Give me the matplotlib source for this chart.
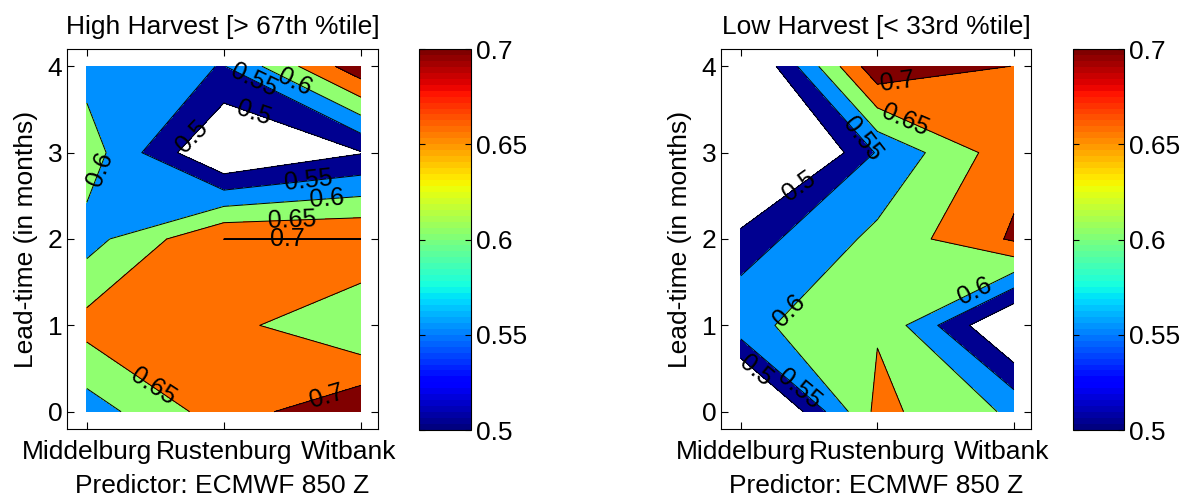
import numpy as np
import matplotlib
matplotlib.use("Agg")
import matplotlib.pyplot as plt
from matplotlib.colors import Normalize
from matplotlib.cm import ScalarMappable
from matplotlib.transforms import ScaledTranslation

plt.rcParams['font.family'] = ['Liberation Sans', 'DejaVu Sans']

# ---- data ----
stations = ['Middelburg', 'Rustenburg', 'Witbank']
lead_times = [0, 1, 2, 3, 4]
levels = [0.5, 0.55, 0.6, 0.65, 0.7]

# rows: lead time 0..4 ; columns: Middelburg, Rustenburg, Witbank
high_harvest = [
    [0.575, 0.675, 0.743],
    [0.668, 0.667, 0.602],
    [0.580, 0.70005, 0.70005],
    [0.627, 0.435, 0.497],
    [0.580, 0.548, 0.735],
]
low_harvest = [
    [0.362, 0.664, 0.591],
    [0.585, 0.645, 0.430],
    [0.524, 0.613, 0.707],
    [0.328, 0.555, 0.683],
    [0.417, 0.738, 0.699],
]
titles = ['High Harvest [> 67th %tile]', 'Low Harvest [< 33rd %tile]']
ylabel = 'Lead-time (in months)'
xlabel = 'Predictor: ECMWF 850 Z'

# ---- style ----
fill_colors = ['#000090', '#0090FF', '#90FF70', '#FF7000', '#800000']
FS = 19
W, H = 1192, 499
fig = plt.figure(figsize=(W / 100, H / 100), dpi=100)


def rect(l, t, r, b):
    return [l / W, 1 - b / H, (r - l) / W, (b - t) / H]


panels = [
    dict(data=high_harvest, ax=rect(67, 49, 378, 429), cax=rect(419, 49, 471, 430),
         labels=[(1.1, 2.8), (2.21, 3.8), (2.5, 3.75), (1.77, 3.18), (2.21, 3.42),
                 (2.62, 2.65), (2.75, 2.44), (2.5, 2.22), (2.46, 2.0), (1.47, 0.26),
                 (2.75, 0.17)]),
    dict(data=low_harvest, ax=rect(721, 49, 1031, 429), cax=rect(1073, 49, 1124, 430),
         labels=[(2.15, 3.76), (2.19, 3.32), (1.85, 3.1), (1.46, 2.54), (1.38, 1.13),
                 (2.73, 1.34), (1.1, 0.45), (1.42, 0.25)]),
]

x = np.arange(1, len(stations) + 1)
y = np.array(lead_times, dtype=float)
X, Y = np.meshgrid(x, y)

for i, p in enumerate(panels):
    ax = fig.add_axes(p['ax'])
    Z = np.array(p['data'])
    ax.contourf(X, Y, Z, levels=levels + [1.0], colors=fill_colors)
    cs = ax.contour(X, Y, Z, levels=levels, colors='k', linewidths=0.7)
    ax.clabel(cs, manual=p['labels'], inline=False, fontsize=18, colors='k',
              fmt=lambda v: f'{v:g}')
    ax.set_xlim(0.855, 3.125)
    ax.set_ylim(-0.2, 4.2)
    ax.set_xticks(x)
    ax.set_xticklabels(stations)
    ax.set_yticks(lead_times)
    ax.tick_params(direction='in', top=True, right=True, length=5, width=0.8,
                   labelsize=FS)
    ax.tick_params(axis='x', pad=8)
    lab = ax.get_xticklabels()[2]
    lab.set_transform(lab.get_transform() + ScaledTranslation(-0.12, 0, fig.dpi_scale_trans))
    ax.set_title(titles[i], fontsize=FS, pad=11)
    ax.set_ylabel(ylabel, fontsize=FS, labelpad=7)
    ax.set_xlabel(xlabel, fontsize=FS, labelpad=7)
    for s in ax.spines.values():
        s.set_linewidth(0.8)

    cax = fig.add_axes(p['cax'])
    sm = ScalarMappable(norm=Normalize(0.5, 0.7), cmap=plt.get_cmap('jet', 64))
    cb = fig.colorbar(sm, cax=cax, ticks=levels)
    cb.ax.set_yticklabels([f'{v:g}' for v in levels])
    cb.ax.tick_params(direction='in', left=True, right=True, length=4, width=0.8,
                      labelsize=FS)
    cb.outline.set_linewidth(0.8)

fig.savefig('out.png', dpi=100)
